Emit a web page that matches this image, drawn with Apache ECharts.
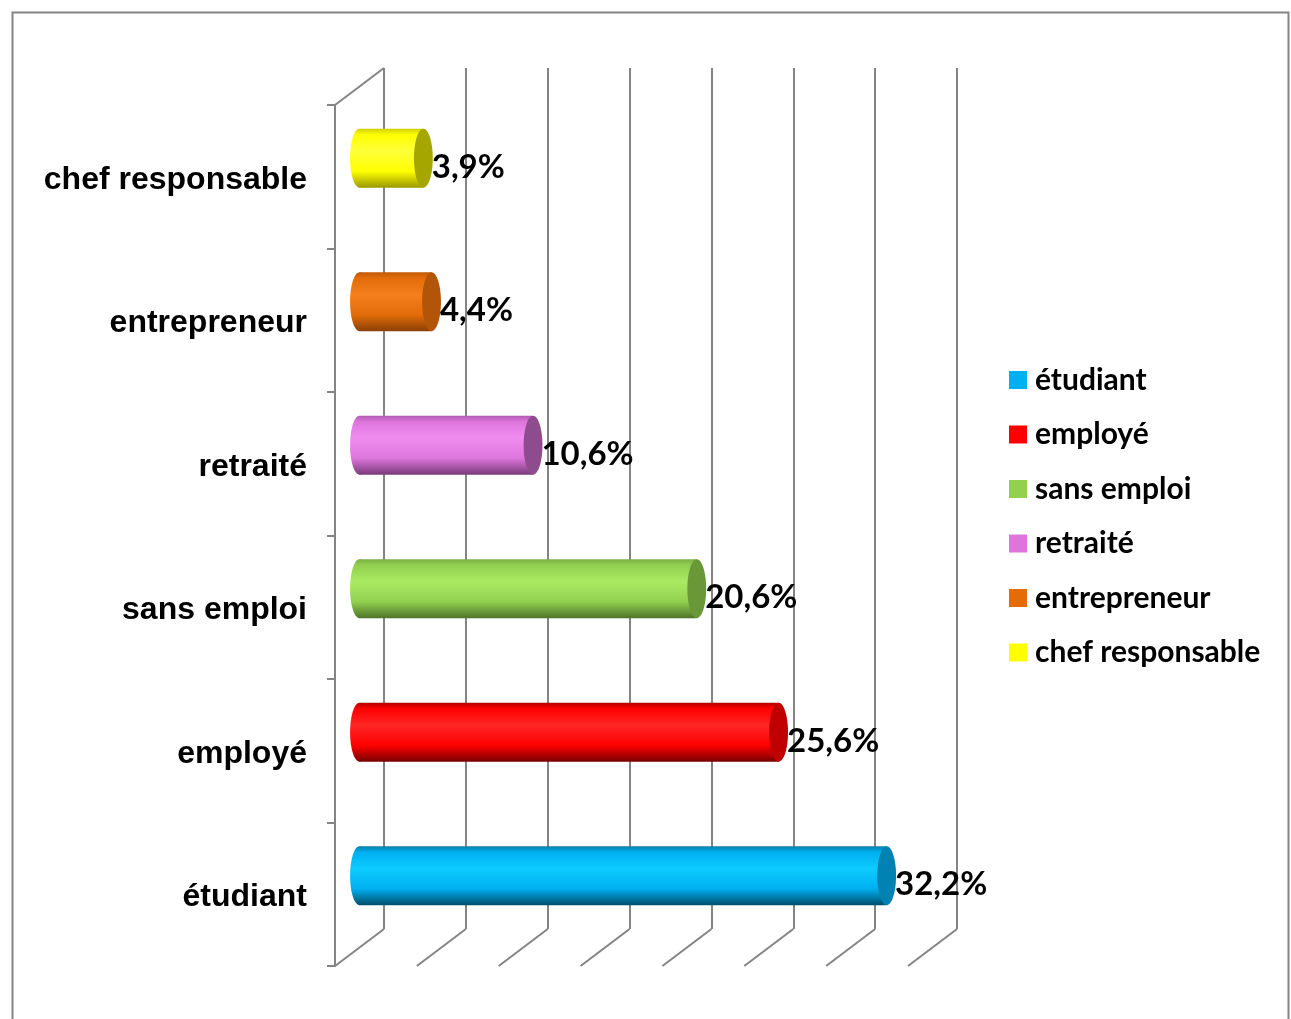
<!DOCTYPE html>
<html>
<head>
<meta charset="utf-8">
<title>Situation professionnelle</title>
<script src="https://cdn.jsdelivr.net/npm/echarts@6/dist/echarts.min.js"></script>
<style>
  html, body { margin: 0; padding: 0; background: #ffffff; }
  #chart { width: 1291px; height: 1019px; }
</style>
</head>
<body>
<div id="chart"></div>
<script>
// Categories, bottom to top along the vertical axis
const categories = ['étudiant', 'employé', 'sans emploi', 'retraité', 'entrepreneur', 'chef responsable'];
// Share of respondents, in percent
const shares = [32.2, 25.6, 20.6, 10.6, 4.4, 3.9];
// Value axis range (no tick labels are shown)
const axisMin = 0;
const axisMax = 35;
const axisStep = 5;

// Cylinder shading per category: top edge, base, highlight, bottom shadow, end cap
const palette = [
  { edge: '#0a7fa8', base: '#00b0f0', light: '#0ccbff', dark: '#004e6c', cap: '#0083b3' },
  { edge: '#b40000', base: '#ff0000', light: '#ff2626', dark: '#780000', cap: '#c00000' },
  { edge: '#7caf45', base: '#92d050', light: '#aaea62', dark: '#4e7428', cap: '#6a9838' },
  { edge: '#b25cb2', base: '#dd75dd', light: '#f08cf0', dark: '#7a3a7a', cap: '#8e4c8e' },
  { edge: '#c05a08', base: '#e36c09', light: '#f47f1c', dark: '#8a4004', cap: '#b25508' },
  { edge: '#d0d000', base: '#ffff00', light: '#ffff3a', dark: '#9a9a00', cap: '#a6a600' }
];

// 3D frame geometry: back wall, front edge and the depth offset between them
const W = 1291, H = 1019;
const DX = 49, DY = 37;
const back = { left: 384, right: W - 957, top: 68, bottom: H - 929 };
const front = { left: back.left - DX, right: back.right + DX, top: back.top + DY, bottom: back.bottom - DY };
const mid = { left: back.left - DX / 2, right: back.right + DX / 2, top: back.top + DY / 2, bottom: back.bottom - DY / 2 };
// Category names sit slightly below the band centres of the front edge
const LABEL_DROP = 3;

const gridColor = '#848484';
const fmt = v => v.toFixed(1).replace('.', ',') + '%';

function cylinder(pal) {
  return function (params, api) {
    const v = api.value(0);
    const c = api.value(1);
    const p0 = api.coord([0, c]);
    const p1 = api.coord([v, c]);
    const h = api.size([0, 1])[1] * 0.41;
    const rx = h * 0.16;
    const cy = p0[1];
    const body = new echarts.graphic.LinearGradient(0, 0, 0, 1, [
      { offset: 0, color: pal.edge },
      { offset: 0.1, color: pal.base },
      { offset: 0.38, color: pal.light },
      { offset: 0.72, color: pal.base },
      { offset: 1, color: pal.dark }
    ]);
    return {
      type: 'group',
      children: [
        { type: 'ellipse', shape: { cx: p0[0], cy: cy, rx: rx, ry: h / 2 }, style: { fill: body } },
        { type: 'rect', shape: { x: p0[0], y: cy - h / 2, width: p1[0] - p0[0], height: h }, style: { fill: body } },
        { type: 'ellipse', shape: { cx: p1[0], cy: cy, rx: rx, ry: h / 2 }, style: { fill: pal.cap } },
        {
          type: 'text',
          style: {
            text: fmt(v), x: p1[0] + rx - 1, y: cy + 9,
            align: 'left', verticalAlign: 'middle',
            fontFamily: 'Lato', fontWeight: 'bold', fontSize: 33, fill: '#000000'
          }
        }
      ]
    };
  };
}

// Floor diagonals at each gridline and the top edge of the side wall
function frameEdges(params, api) {
  const cs = params.coordSys;
  const x = api.coord([api.value(0), 0])[0];
  const yb = cs.y + cs.height;
  const style = { stroke: gridColor, lineWidth: 2 };
  const children = [
    { type: 'line', shape: { x1: x, y1: yb, x2: x + DX, y2: yb - DY }, style: style }
  ];
  if (api.value(0) === axisMin) {
    children.push({ type: 'line', shape: { x1: x, y1: cs.y, x2: x + DX, y2: cs.y - DY }, style: style });
  }
  return { type: 'group', children: children };
}

const tickValues = [];
for (let t = axisMin; t <= axisMax; t += axisStep) tickValues.push([t]);

const hiddenValueAxis = (gridIndex, showSplit) => ({
  type: 'value', gridIndex: gridIndex, min: axisMin, max: axisMax, interval: axisStep,
  axisLine: { show: false }, axisTick: { show: false }, axisLabel: { show: false },
  splitLine: { show: showSplit, lineStyle: { color: gridColor, width: 2 } }
});

const hiddenCategoryAxis = gridIndex => ({
  type: 'category', gridIndex: gridIndex, data: categories,
  axisLine: { show: false }, axisTick: { show: false }, axisLabel: { show: false },
  splitLine: { show: false }
});

const series = [{
  type: 'custom', name: 'frame', xAxisIndex: 1, yAxisIndex: 1,
  data: tickValues, renderItem: frameEdges, clip: false, silent: true, z: 1,
  legendHoverLink: false
}];
categories.forEach((name, i) => {
  series.push({
    type: 'custom', name: name, xAxisIndex: 2, yAxisIndex: 2,
    data: [[shares[i], i]], renderItem: cylinder(palette[i]), clip: false, z: 3,
    itemStyle: { color: palette[i].base }
  });
});

const chart = echarts.init(document.getElementById('chart'), null, { renderer: 'canvas' });
chart.setOption({
  backgroundColor: '#ffffff',
  animation: false,
  graphic: [{
    type: 'rect', left: 10, top: 10, silent: true,
    shape: { width: 1276, height: 1040 },
    style: { fill: 'none', stroke: gridColor, lineWidth: 2 }
  }],
  grid: [
    { left: back.left, right: back.right, top: back.top, bottom: back.bottom },
    { left: front.left, right: front.right, top: front.top, bottom: front.bottom },
    { left: mid.left, right: mid.right, top: mid.top, bottom: mid.bottom },
    { left: front.left, right: front.right, top: front.top + LABEL_DROP, bottom: front.bottom - LABEL_DROP }
  ],
  xAxis: [hiddenValueAxis(0, true), hiddenValueAxis(1, false), hiddenValueAxis(2, false), hiddenValueAxis(3, false)],
  yAxis: [
    hiddenCategoryAxis(0),
    {
      type: 'category', gridIndex: 1, data: categories,
      axisLine: { show: true, lineStyle: { color: gridColor, width: 2 } },
      axisTick: { show: true, length: 8, lineStyle: { color: gridColor, width: 2 } },
      axisLabel: { show: false },
      splitLine: { show: false }
    },
    hiddenCategoryAxis(2),
    {
      type: 'category', gridIndex: 3, data: categories,
      axisLine: { show: false }, axisTick: { show: false },
      axisLabel: {
        margin: 28, color: '#000000',
        fontFamily: 'Liberation Sans', fontWeight: 'bold', fontSize: 32
      },
      splitLine: { show: false }
    }
  ],
  legend: {
    data: categories,
    orient: 'vertical',
    left: 1004, top: 360,
    icon: 'rect', itemWidth: 18, itemHeight: 18, itemGap: 24.5,
    textStyle: {
      fontFamily: 'Lato', fontWeight: 'bold', fontSize: 30, lineHeight: 30,
      color: '#000000', padding: [0, 0, 0, 3]
    }
  },
  series: series
});
</script>
</body>
</html>
